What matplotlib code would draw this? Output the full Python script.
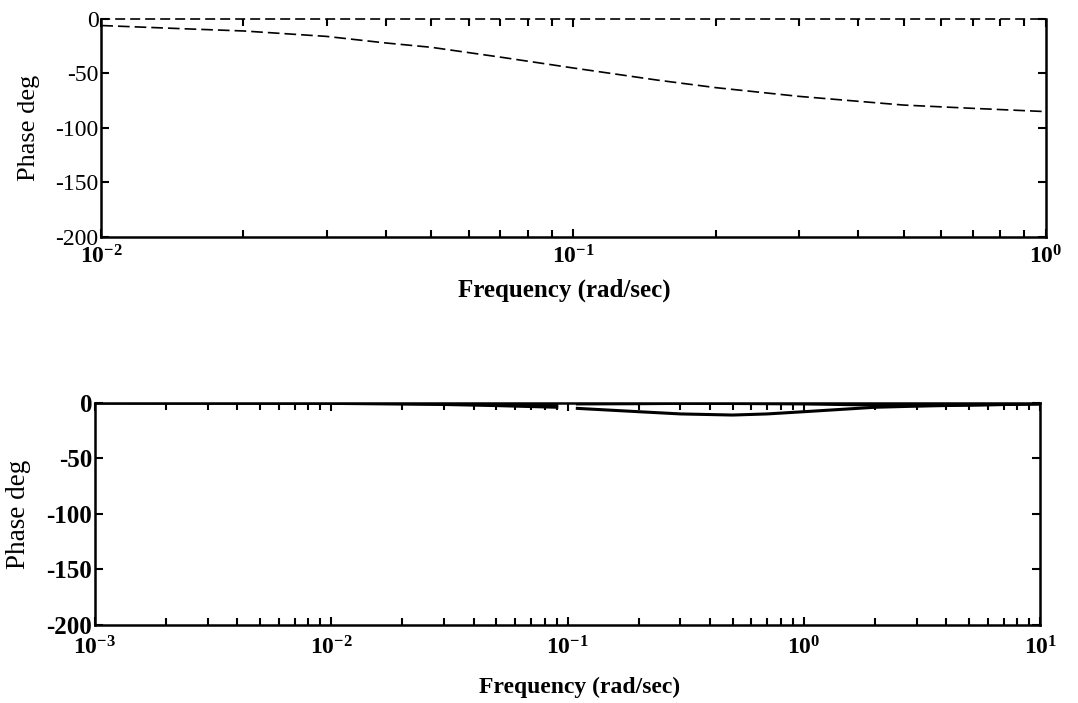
"""Two Bode phase plots, scanned-figure style."""

import numpy as np
import matplotlib

matplotlib.use("Agg")
import matplotlib.pyplot as plt
from matplotlib.ticker import LogLocator, FixedLocator, NullFormatter

plt.rcParams["font.family"] = ["Liberation Serif", "DejaVu Serif"]
plt.rcParams["mathtext.fontset"] = "custom"
plt.rcParams["mathtext.rm"] = "Liberation Serif"
plt.rcParams["mathtext.bf"] = "Liberation Serif:bold"

# top plot: phase of the first system
top_freq = [0.01, 0.015, 0.02, 0.03, 0.04, 0.05, 0.07, 0.1, 0.15, 0.2, 0.3, 0.5, 0.7, 1.0]
top_phase = [-6, -9, -11, -16, -22, -26, -35, -45, -56, -63, -71, -79, -82, -85]

# bottom plot: two nearly flat phase curves, broken near 0.1 rad/sec
bot_freq = [0.001, 0.01, 0.03, 0.05, 0.09, 0.1, 0.11, 0.2, 0.3, 0.5, 0.7, 1.0, 2.0, 3.0, 5.0, 10.0]
bot_phase_a = [0, -0.3, -0.8, -1.2, -2, np.nan, -1, -0.8, -0.5, -0.6, -0.8, -1, -2, -2.5, -2, -1]
bot_phase_b = [0, -0.5, -1.5, -2.5, -4, np.nan, -5, -8, -10, -11, -10, -8, -4, -3, -2, -1]

y_ticks = [0, -50, -100, -150, -200]
y_labels = ["0", "-50", "-100", "-150", "-200"]


def _style_axes(ax, xmin, xmax, *, bold_y, ytick_size, ylabel_size, xlabel_size, xtick_pad):
    ax.set_xscale("log")
    ax.set_xlim(xmin, xmax)
    ax.set_ylim(-200, 0)
    ax.xaxis.set_minor_locator(LogLocator(base=10, subs=np.arange(2, 10), numticks=100))
    ax.xaxis.set_minor_formatter(NullFormatter())
    ax.yaxis.set_major_locator(FixedLocator(y_ticks))
    ax.set_yticklabels(y_labels, fontsize=ytick_size, fontweight="bold" if bold_y else "normal")
    decades = range(int(np.log10(xmin)), int(np.log10(xmax)) + 1)
    ax.set_xticks([10.0**d for d in decades])
    ax.set_xticklabels([rf"$\mathbf{{10^{{{d}}}}}$" for d in decades], fontsize=17)
    ax.tick_params(axis="both", which="both", direction="in", top=True, right=True,
                   width=1.5, color="black")
    ax.tick_params(axis="both", which="major", length=6)
    ax.tick_params(axis="x", which="major", pad=xtick_pad)
    ax.tick_params(axis="y", which="major", pad=2)
    ax.tick_params(axis="x", which="minor", length=5)
    ax.set_ylabel("Phase deg", fontsize=ylabel_size)
    ax.set_xlabel("Frequency (rad/sec)", fontsize=xlabel_size, fontweight="bold")
    for spine in ax.spines.values():
        spine.set_linewidth(1.8)


fig = plt.figure(figsize=(10.78, 7.03), dpi=100)
ax_top = fig.add_axes([0.094, 0.663, 0.876, 0.310])
ax_bot = fig.add_axes([0.088, 0.111, 0.877, 0.316])

ax_top.plot(top_freq, top_phase, color="black", linewidth=1.2, linestyle=(0, (7, 3)))
_style_axes(ax_top, 0.01, 1.0, bold_y=False, ytick_size=17, ylabel_size=19,
            xlabel_size=18, xtick_pad=6)
ax_top.spines["top"].set_linestyle((0, (5, 4)))
ax_top.spines["top"].set_linewidth(1.2)
ax_top.xaxis.set_label_coords(0.49, -0.19)
ax_top.yaxis.set_label_coords(-0.065, 0.5)

ax_bot.plot(bot_freq, bot_phase_a, color="black", linewidth=2.2)
ax_bot.plot(bot_freq, bot_phase_b, color="black", linewidth=2.2)
_style_axes(ax_bot, 0.001, 10.0, bold_y=True, ytick_size=18, ylabel_size=19.5,
            xlabel_size=17, xtick_pad=8)
ax_bot.xaxis.set_label_coords(0.513, -0.235)
ax_bot.yaxis.set_label_coords(-0.068, 0.5)

fig.savefig("out.png", dpi=100)
